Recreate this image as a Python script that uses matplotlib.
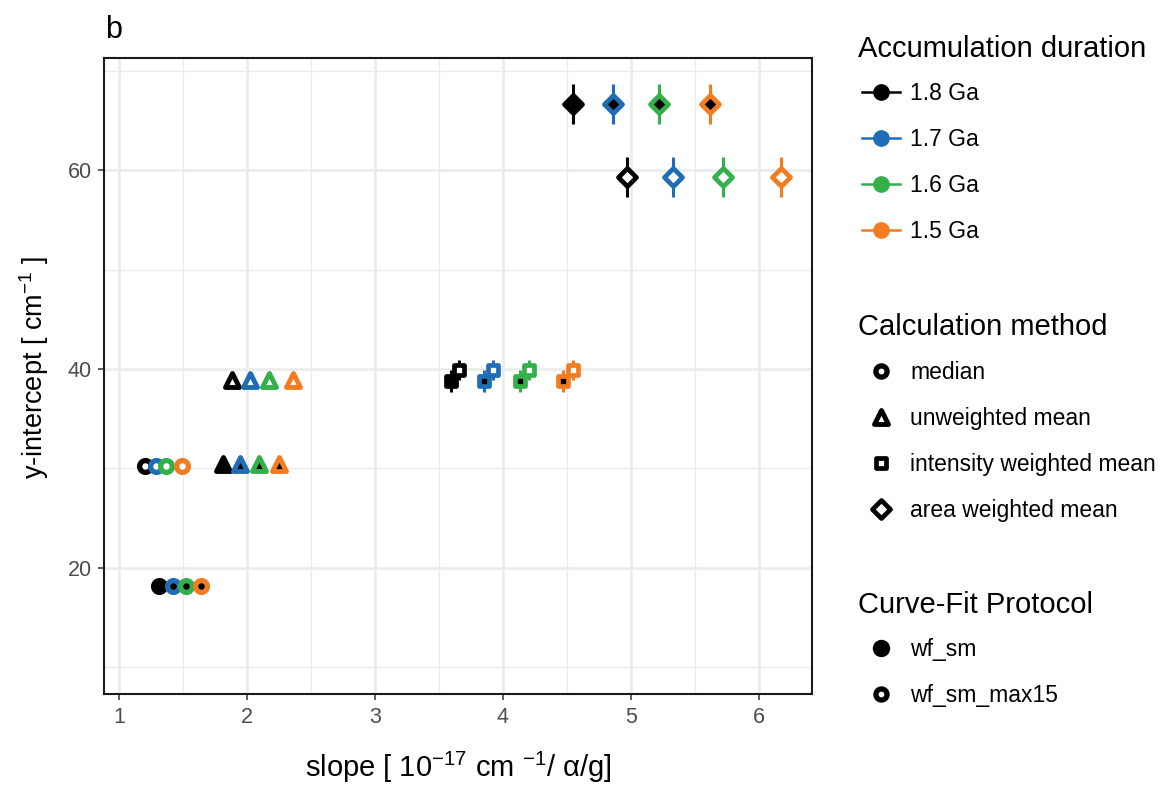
import matplotlib
matplotlib.use("Agg")
import matplotlib.pyplot as plt
from matplotlib.lines import Line2D
from matplotlib.markers import MarkerStyle
from matplotlib.ticker import MultipleLocator

plt.rcParams['font.family'] = ['Liberation Sans', 'DejaVu Sans']
plt.rcParams['mathtext.fontset'] = 'custom'
plt.rcParams['mathtext.rm'] = 'Liberation Sans'
plt.rcParams['mathtext.it'] = 'Liberation Sans:italic'
plt.rcParams['mathtext.bf'] = 'Liberation Sans:bold'

# ---- data ----
durations = ['1.8 Ga', '1.7 Ga', '1.6 Ga', '1.5 Ga']
dur_colors = ['#000000', '#1f6db5', '#34b04a', '#f47c20']

methods = ['median', 'unweighted mean', 'intensity weighted mean', 'area weighted mean']
method_markers = ['o', '^', 's', 'D']
protocols = ['wf_sm', 'wf_sm_max15']

# slope per method (rows) and duration (columns)
slope_wf_sm = [[1.315, 1.42, 1.52, 1.64],
               [1.81, 1.945, 2.09, 2.25],
               [3.59, 3.85, 4.13, 4.47],
               [4.55, 4.86, 5.22, 5.62]]
intercept_wf_sm = [18.15, 30.4, 38.8, 66.7]
intercept_err_wf_sm = [0.5, 0.6, 1.1, 2.0]

slope_max15 = [[1.20, 1.29, 1.37, 1.49],
               [1.88, 2.02, 2.17, 2.36],
               [3.66, 3.92, 4.20, 4.55],
               [4.97, 5.33, 5.72, 6.17]]
intercept_max15 = [30.2, 38.9, 39.9, 59.3]
intercept_err_max15 = [0.5, 0.6, 1.0, 2.0]

fig = plt.figure(figsize=(11.66, 7.85), dpi=100)
ax = fig.add_axes([0.0892, 0.1159, 0.6072, 0.8101])

msize = {'o': 8.5, '^': 10.5, 's': 7.5, 'D': 9.5}
mwidth = {'o': 3.8, '^': 3.5, 's': 3.4, 'D': 3.4}

def mstyle(mk):
    return MarkerStyle(mk, joinstyle='round')

for slopes, icpt, err, face in [(slope_wf_sm, intercept_wf_sm, intercept_err_wf_sm, 'black'),
                                (slope_max15, intercept_max15, intercept_err_max15, 'white')]:
    for m, mk in enumerate(method_markers):
        for d, col in enumerate(dur_colors):
            ax.errorbar(slopes[m][d], icpt[m], yerr=err[m], fmt='none',
                        ecolor=col, elinewidth=2.2, capsize=0, zorder=3)
            ax.plot(slopes[m][d], icpt[m], marker=mstyle(mk), ms=msize[mk], mfc=face,
                    mec=col, mew=mwidth[mk], ls='none', zorder=4)

ax.set_xlim(0.883, 6.414)
ax.set_ylim(7.3, 71.3)
ax.xaxis.set_major_locator(MultipleLocator(1))
ax.xaxis.set_minor_locator(MultipleLocator(0.5))
ax.yaxis.set_major_locator(MultipleLocator(20))
ax.yaxis.set_minor_locator(MultipleLocator(10))
ax.grid(which='major', color='#ebebeb', lw=1.8, zorder=0)
ax.grid(which='minor', color='#ebebeb', lw=0.9, zorder=0)
ax.set_axisbelow(True)
for s in ax.spines.values():
    s.set_linewidth(1.5)
    s.set_color('#1a1a1a')
ax.tick_params(which='major', length=4, width=1.1, color='#333333',
               labelsize=15.5, labelcolor='#4d4d4d', pad=5)
ax.tick_params(which='minor', length=0)

ax.set_xlabel('slope [ 10$^{-17}$ cm $^{-1}$/ α/g]', fontsize=21, labelpad=16)
ax.set_ylabel('y-intercept [ cm$^{-1}$ ]', fontsize=19.5, labelpad=12)
ax.yaxis.label.set_y(0.513)
fig.text(0.09, 0.952, 'b', fontsize=22)

# legends: titles as text, entries as legends
title_kw = dict(fontsize=21, ha='left', va='center')
fig.text(0.7358, 1 - 49 / 785, 'Accumulation duration', **title_kw)
fig.text(0.7358, 1 - 327 / 785, 'Calculation method', **title_kw)
fig.text(0.7358, 1 - 605 / 785, 'Curve-Fit Protocol', **title_kw)

leg_kw = dict(frameon=False, loc='upper left', fontsize=16.5,
              handlelength=1.65, handletextpad=0.45,
              labelspacing=1.0, borderpad=0, borderaxespad=0)

h1 = [Line2D([], [], color=c, lw=1.8, marker='o', ms=11) for c in dur_colors]
l1 = fig.legend(h1, durations, bbox_to_anchor=(0.7393, 0.8955), **leg_kw)

h2 = [Line2D([], [], color='black', ls='none', marker=mstyle(mk), ms=msize[mk] * 0.95,
             mfc='white', mec='black', mew=mwidth[mk]) for mk in method_markers]
l2 = fig.legend(h2, methods, bbox_to_anchor=(0.7393, 0.5401), **leg_kw)

h3 = [Line2D([], [], color='black', ls='none', marker='o', ms=11.5),
      Line2D([], [], color='black', ls='none', marker='o', ms=8, mfc='white', mew=3.8)]
l3 = fig.legend(h3, protocols, bbox_to_anchor=(0.7393, 0.1873), **leg_kw)

fig.savefig('out.png', dpi=100)
